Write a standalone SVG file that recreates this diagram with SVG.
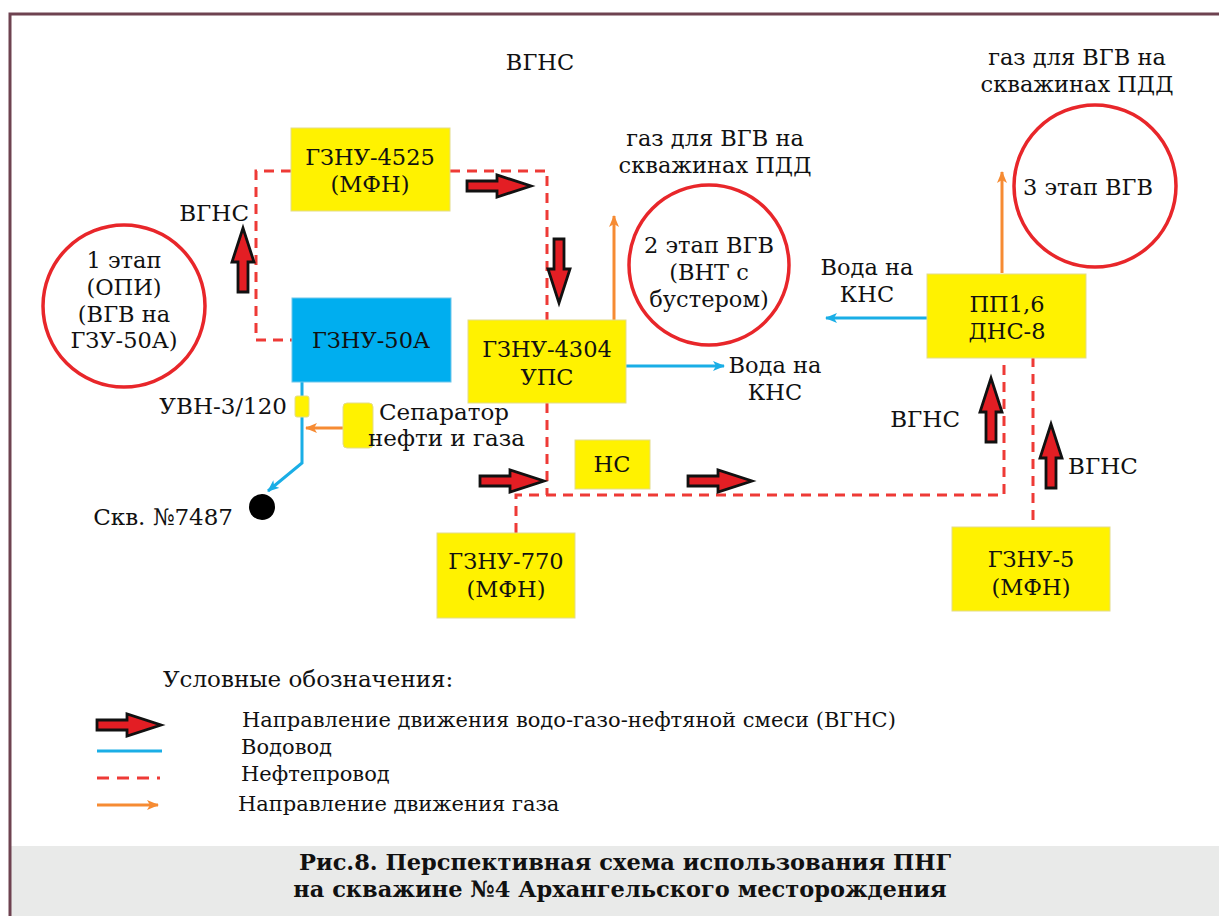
<svg xmlns="http://www.w3.org/2000/svg" xmlns:xlink="http://www.w3.org/1999/xlink" width="1219" height="916" viewBox="0 0 1219 916">
<style>
text{font-family:"DejaVu Serif","Liberation Serif",serif;fill:#111;}
.n{font-size:22.5px;text-anchor:middle;}
.l{font-size:23px;}
.lg{font-size:21px;}
.cap{font-size:22.5px;font-weight:bold;text-anchor:middle;}
.y{fill:#fff200;stroke:#e3dc8a;stroke-width:1;}
.b{fill:#00aeef;stroke:#6fc6ea;stroke-width:1;}
.c{fill:none;stroke:#e8262a;stroke-width:3.5;}
.d{fill:none;stroke:#ee3a36;stroke-width:3;stroke-dasharray:10 7;}
.w{fill:none;stroke:#1aaee6;stroke-width:3;}
.g{fill:none;stroke:#f68b33;stroke-width:3;}
.ba{fill:#e31e24;stroke:#111;stroke-width:2.8;stroke-linejoin:miter;}
</style>
<defs>
<path id="ba" d="M0,-5 H30 V-11 L64,0 L30,11 V5 H0 Z"/>
<marker id="mw" viewBox="0 0 12 10" refX="11" refY="5" markerWidth="12" markerHeight="10" markerUnits="userSpaceOnUse" orient="auto"><path d="M0,0 L12,5 L0,10 L3,5 Z" fill="#1aaee6"/></marker>
<marker id="mg" viewBox="0 0 12 10" refX="11" refY="5" markerWidth="12" markerHeight="10" markerUnits="userSpaceOnUse" orient="auto"><path d="M0,0 L12,5 L0,10 L3,5 Z" fill="#f68b33"/></marker>
</defs>
<rect x="0" y="0" width="1219" height="916" fill="#fff"/>
<rect x="11" y="846" width="1208" height="70" fill="#e9eae9"/>
<path d="M10,916 V14 H1219" fill="none" stroke="#6e4250" stroke-width="3"/>

<g id="connectors">
<path class="d" d="M291,171 H256 V340 H292"/>
<path class="d" d="M450,171 H547 V320"/>
<path class="d" d="M547,403 V495"/>
<path class="d" d="M516,533 V495 H1004 V357"/>
<path class="d" d="M1033,357 V527"/>
<path class="w" d="M302,382 V463 L268,491" marker-end="url(#mw)"/>
<path class="g" d="M343,428 H306" marker-end="url(#mg)"/>
<path class="w" d="M626,366 H724" marker-end="url(#mw)"/>
<path class="w" d="M927,318 H826" marker-end="url(#mw)"/>
<path class="g" d="M614,320 V216" marker-end="url(#mg)"/>
<path class="g" d="M1002,273 V172" marker-end="url(#mg)"/>
<use xlink:href="#ba" class="ba" transform="translate(467,186)"/>
<use xlink:href="#ba" class="ba" transform="translate(559,239) rotate(90)"/>
<use xlink:href="#ba" class="ba" transform="translate(243,292) rotate(-90)"/>
<use xlink:href="#ba" class="ba" transform="translate(480,481)"/>
<use xlink:href="#ba" class="ba" transform="translate(688,481)"/>
<use xlink:href="#ba" class="ba" transform="translate(991,442) rotate(-90)"/>
<use xlink:href="#ba" class="ba" transform="translate(1051,488) rotate(-90)"/>
</g>

<g id="n-stage1"><circle class="c" cx="124" cy="306" r="81"/>
<text class="n" x="124" y="268">1 этап</text><text class="n" x="124" y="295">(ОПИ)</text><text class="n" x="124" y="322">(ВГВ на</text><text class="n" x="124" y="348">ГЗУ-50А)</text></g>
<g id="n-stage2"><circle class="c" cx="709" cy="265" r="80"/>
<text class="n" x="709" y="253">2 этап ВГВ</text><text class="n" x="709" y="280">(ВНТ с</text><text class="n" x="709" y="307">бустером)</text></g>
<g id="n-stage3"><circle class="c" cx="1095" cy="186" r="81"/>
<text class="n" x="1088" y="195">3 этап ВГВ</text></g>

<g id="n-4525"><rect class="y" x="291" y="128" width="159" height="83"/>
<text class="n" x="370" y="165">ГЗНУ-4525</text><text class="n" x="370" y="192">(МФН)</text></g>
<g id="n-50a"><rect class="b" x="292" y="298" width="159" height="84"/>
<text class="n" x="371" y="348">ГЗНУ-50А</text></g>
<g id="n-4304"><rect class="y" x="468" y="320" width="158" height="83"/>
<text class="n" x="547" y="357">ГЗНУ-4304</text><text class="n" x="547" y="385">УПС</text></g>
<g id="n-ns"><rect class="y" x="575" y="440" width="75" height="49"/>
<text class="n" x="612" y="472">НС</text></g>
<g id="n-770"><rect class="y" x="437" y="533" width="138" height="85"/>
<text class="n" x="506" y="569">ГЗНУ-770</text><text class="n" x="506" y="597">(МФН)</text></g>
<g id="n-5"><rect class="y" x="952" y="527" width="158" height="84"/>
<text class="n" x="1031" y="567">ГЗНУ-5</text><text class="n" x="1031" y="595">(МФН)</text></g>
<g id="n-pp"><rect class="y" x="927" y="274" width="159" height="84"/>
<text class="n" x="1007" y="312">ПП1,6</text><text class="n" x="1007" y="339">ДНС-8</text></g>
<g id="n-uvn"><rect class="y" x="295" y="396" width="14" height="21" rx="2"/>
<text class="l" x="287" y="414" text-anchor="end">УВН-3/120</text></g>
<g id="n-sep"><rect class="y" x="343" y="403" width="30" height="45" rx="4"/>
<text class="l" x="379" y="420">Сепаратор</text><text class="l" x="368" y="446">нефти и газа</text></g>
<g id="n-well"><circle cx="262" cy="507" r="13" fill="#000"/>
<text class="l" x="233" y="525" text-anchor="end">Скв. №7487</text></g>

<g id="labels">
<text class="n" x="540" y="70">ВГНС</text>
<text class="n" x="1077" y="65">газ для ВГВ на</text><text class="n" x="1077" y="92">скважинах ПДД</text>
<text class="n" x="715" y="146">газ для ВГВ на</text><text class="n" x="715" y="173">скважинах ПДД</text>
<text class="l" x="249" y="221" text-anchor="end">ВГНС</text>
<text class="n" x="775" y="373">Вода на</text><text class="n" x="775" y="400">КНС</text>
<text class="n" x="867" y="275">Вода на</text><text class="n" x="867" y="302">КНС</text>
<text class="l" x="960" y="427" text-anchor="end">ВГНС</text>
<text class="l" x="1068" y="474">ВГНС</text>
</g>

<g id="legend">
<text class="l" x="163" y="687">Условные обозначения:</text>
<use xlink:href="#ba" class="ba" transform="translate(97,725)"/>
<path class="w" d="M97,751 H162"/>
<path class="d" d="M97,778 H160" style="stroke-dasharray:12 8"/>
<path class="g" d="M97,805 H158" marker-end="url(#mg)"/>
<text class="lg" x="242" y="727">Направление движения водо-газо-нефтяной смеси (ВГНС)</text>
<text class="lg" x="241" y="754">Водовод</text>
<text class="lg" x="241" y="781">Нефтепровод</text>
<text class="lg" x="238" y="811">Направление движения газа</text>
</g>

<g id="caption">
<text class="cap" x="625" y="870">Рис.8. Перспективная схема использования ПНГ</text>
<text class="cap" x="620" y="897">на скважине №4 Архангельского месторождения</text>
</g>
</svg>
